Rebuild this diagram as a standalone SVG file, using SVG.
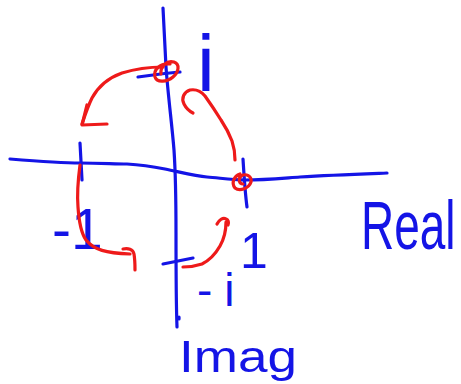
<svg xmlns="http://www.w3.org/2000/svg" width="461" height="384" viewBox="0 0 461 384">
<style>
.b{fill:none;stroke:#1414e6;stroke-width:3.2;stroke-linecap:round;stroke-linejoin:round}
.r{fill:none;stroke:#ee1a1a;stroke-width:3.2;stroke-linecap:round;stroke-linejoin:round}
.t{fill:#1414e6;font-family:"Liberation Sans",Arial,sans-serif}
</style>
<rect width="461" height="384" fill="#ffffff"/>
<g id="axes">
<path class="b" d="M163,8 C164,30 165,50 166,67 C168,95 172,125 174,150 C176,180 176,210 176,233 C176,270 176,300 177,327"/>
<path class="b" d="M10,159 C35,161 60,163 80,163 C100,163 115,164 127,164 C145,165 155,167 165,169 C180,172 195,176 207,177 C220,178 232,180 245,180 C265,180 285,178 300,177 C330,175 360,174 387,173"/>
<path class="b" d="M179,317 L179,319"/>
</g>
<g id="ticks">
<path class="b" d="M80,143 L82,180"/>
<path class="b" d="M243,159 C244,175 245,192 247,207"/>
<path class="b" d="M138,77 C152,75 166,73 180,72"/>
<path class="b" d="M163,264 C173,262 183,260 193,258"/>
</g>
<g id="labels">
<text class="t" x="197" y="91" font-size="80">i</text>
<text class="t" x="52" y="249" font-size="57">-1</text>
<text class="t" x="240" y="268" font-size="50">1</text>
<text class="t" x="197" y="306" font-size="46" letter-spacing="12">-i</text>
<text class="t" transform="translate(361,249) scale(1,1.5)" x="0" y="0" font-size="46">Real</text>
<text class="t" x="179" y="372" font-size="44" textLength="118" lengthAdjust="spacingAndGlyphs">Imag</text>
</g>
<g id="marks">
<path class="r" d="M170,64 C160,63 153,70 155,77 C157,83 167,82 173,77 C179,72 180,64 174,62 C167,60 160,66 161,74"/>
<path class="r" d="M240,174 C234,176 231,183 235,188 C240,192 249,188 251,182 C252,176 246,173 241,176 C238,179 239,184 243,184"/>
</g>
<g id="connectors">
<path class="r" d="M163,67 C150,67 135,69 122,73 C108,78 98,87 92,98 C88,106 85,115 82,124"/>
<path class="r" d="M87,105 L82,125 L107,124"/>
<path class="r" d="M80,165 C78,180 77,195 78,207 C79,222 81,233 86,240 C94,250 106,253 130,254"/>
<path class="r" d="M123,249 C128,248 133,249 134,254 C135,260 135,265 135,270"/>
<path class="r" d="M183,267 C190,267 196,266 202,264 C210,260 216,253 220,246 C224,239 226,230 226,222"/>
<path class="r" d="M217,224 C219,220 223,217 226,219 C228,220 229,222 228,225"/>
<path class="r" d="M235,160 C235,153 234,147 232,141 C229,133 225,126 221,120 C216,112 210,103 205,96 C201,91 196,89 190,90 C184,92 181,98 184,104 C186,108 189,111 193,113"/>
</g>
</svg>
